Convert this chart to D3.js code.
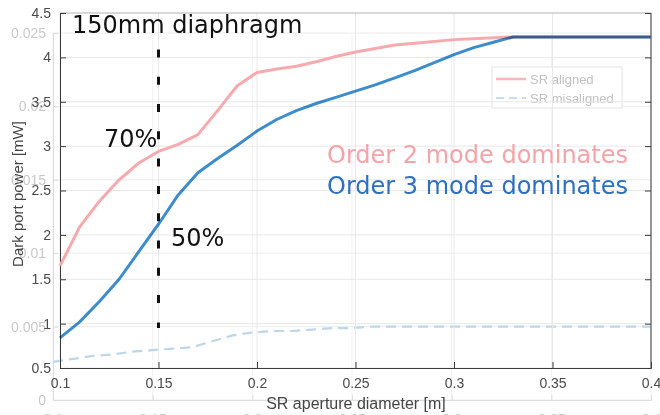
<!DOCTYPE html>
<html>
<head>
<meta charset="utf-8">
<script src="https://cdn.jsdelivr.net/npm/d3@7"></script>
<style>
  html, body { margin: 0; padding: 0; background: #fff; }
  svg { display: block; }
  .mono text { font-family: "Liberation Sans", Arial, sans-serif; }
</style>
</head>
<body>
<svg id="chart" width="660" height="415"></svg>
<script>
// Aperture diameters [m]
const diameters = [0.10,0.11,0.12,0.13,0.14,0.15,0.16,0.17,0.18,0.19,0.20,0.21,0.22,0.23,0.24,0.25,
                   0.26,0.27,0.28,0.29,0.30,0.31,0.32,0.33,0.34,0.35,0.36,0.37,0.38,0.39,0.40];
// Dark port power [mW], order-2 mode dominated case
const order2Power = [1.65,2.09,2.38,2.62,2.81,2.94,3.02,3.13,3.40,3.68,3.83,3.87,3.90,3.95,4.01,4.06,
                     4.10,4.14,4.16,4.18,4.20,4.21,4.22,4.23,4.23,4.23,4.23,4.23,4.23,4.23,4.23];
// Dark port power [mW], order-3 mode dominated case
const order3Power = [0.84,1.02,1.25,1.50,1.81,2.12,2.45,2.70,2.86,3.01,3.17,3.30,3.40,3.48,3.55,3.62,
                     3.69,3.77,3.85,3.94,4.03,4.11,4.17,4.23,4.23,4.23,4.23,4.23,4.23,4.23,4.23];
// Misaligned SR curve (secondary axis units)
const misalignedPower = [0.0026,0.0028,0.0030,0.0031,0.0033,0.0034,0.0035,0.0036,0.0040,0.0044,0.0046,
                         0.0047,0.0047,0.0048,0.0049,0.0049,0.0050,0.0050,0.0050,0.0050,0.0050,0.0050,
                         0.0050,0.0050,0.0050,0.0050,0.0050,0.0050,0.0050,0.0050,0.0050];

const xTicks = [0.1,0.15,0.2,0.25,0.3,0.35,0.4];
const yTicks = [0.5,1,1.5,2,2.5,3,3.5,4,4.5];
const y2Ticks = [0,0.005,0.01,0.015,0.02,0.025];
const legendLabels = ["SR aligned","SR misaligned"];
const diaphragm = 0.15;          // marked aperture [m]
const diaphragmSpan = [0.95, 4.09];

const svg = d3.select("#chart");

// ---------- secondary (faded) axes ----------
const x2 = d3.scaleLinear().domain([0.1,0.4]).range([53,651]);
const y2 = d3.scaleLinear().domain([0,0.025]).range([400,33]);
const back = svg.append("g").attr("class","mono");

back.selectAll("line.vg").data(xTicks).join("line")
  .attr("x1",d=>x2(d)).attr("x2",d=>x2(d)).attr("y1",y2(0.025)).attr("y2",y2(0))
  .attr("stroke","#f1f1f1").attr("stroke-width",1);
back.selectAll("line.hg").data(y2Ticks).join("line")
  .attr("x1",x2(0.1)).attr("x2",x2(0.4)).attr("y1",d=>y2(d)).attr("y2",d=>y2(d))
  .attr("stroke","#ececec").attr("stroke-width",1);

const ax2 = back.append("g").attr("transform",`translate(${x2(0.1)},0)`)
  .call(d3.axisLeft(y2).tickValues(y2Ticks).tickFormat(d=>d===0?"0":String(+d.toFixed(3))).tickSize(-5).tickPadding(7));
const ax2b = back.append("g").attr("transform",`translate(0,${y2(0)})`)
  .call(d3.axisBottom(x2).tickValues(xTicks).tickFormat(d=>String(+d.toFixed(2))).tickSize(-5).tickPadding(14));
[ax2, ax2b].forEach(g => {
  g.select(".domain").attr("stroke","#dcdcdc");
  g.selectAll(".tick line").attr("stroke","#dcdcdc");
  g.selectAll("text").attr("fill","#c9c9c9").attr("font-size",14);
});

// misaligned curve
back.append("path")
  .datum(diameters.map((d,i)=>[d,misalignedPower[i]]))
  .attr("fill","none").attr("stroke","#bcd6ea").attr("stroke-width",2.2)
  .attr("stroke-dasharray","10,6")
  .attr("d", d3.line().x(d=>x2(d[0])).y(d=>y2(d[1])));

// legend
const lg = back.append("g").attr("transform","translate(492,67)");
lg.append("rect").attr("width",130).attr("height",41).attr("fill","#fff")
  .attr("stroke","#e4e4e4");
lg.append("line").attr("x1",4).attr("x2",34).attr("y1",12).attr("y2",12)
  .attr("stroke","#f6b8bb").attr("stroke-width",2.5);
lg.append("line").attr("x1",4).attr("x2",34).attr("y1",31).attr("y2",31)
  .attr("stroke","#c7dcee").attr("stroke-width",2).attr("stroke-dasharray","8,5");
lg.selectAll("text").data(legendLabels).join("text")
  .attr("x",38).attr("y",(d,i)=>12+i*19).attr("dy","0.35em")
  .attr("fill","#c2c2c2").attr("font-size",13).text(d=>d);

// ---------- primary axes ----------
const x = d3.scaleLinear().domain([0.1,0.4]).range([60,651]);
const y = d3.scaleLinear().domain([0.5,4.5]).range([368,13]);
const front = svg.append("g").attr("class","mono");

front.selectAll("line.vg").data(xTicks).join("line")
  .attr("x1",d=>x(d)).attr("x2",d=>x(d)).attr("y1",y(4.5)).attr("y2",y(0.5))
  .attr("stroke","#e8e8e8").attr("stroke-width",1);
front.selectAll("line.hg").data(yTicks).join("line")
  .attr("x1",x(0.1)).attr("x2",x(0.4)).attr("y1",d=>y(d)).attr("y2",d=>y(d))
  .attr("stroke","#e8e8e8").attr("stroke-width",1);

// box edges
front.append("line").attr("x1",x(0.1)).attr("x2",x(0.4)).attr("y1",y(4.5)).attr("y2",y(4.5))
  .attr("stroke","#bdbdbd");
front.append("line").attr("x1",x(0.4)).attr("x2",x(0.4)).attr("y1",y(4.5)).attr("y2",y(0.5))
  .attr("stroke","#3a3a3a");
front.append("g").attr("transform",`translate(${x(0.4)},0)`)
  .call(d3.axisRight(y).tickValues(yTicks).tickSize(-6).tickFormat(""))
  .call(g=>{g.select(".domain").remove(); g.selectAll(".tick line").attr("stroke","#3a3a3a");});

const axY = front.append("g").attr("transform",`translate(${x(0.1)},0)`)
  .call(d3.axisLeft(y).tickValues(yTicks).tickFormat(d=>String(d)).tickSize(-6).tickPadding(9));
const axX = front.append("g").attr("transform",`translate(0,${y(0.5)})`)
  .call(d3.axisBottom(x).tickValues(xTicks).tickFormat(d=>String(+d.toFixed(2))).tickSize(-6).tickPadding(10));
[axY, axX].forEach(g => {
  g.select(".domain").attr("stroke","#3a3a3a");
  g.selectAll(".tick line").attr("stroke","#3a3a3a");
  g.selectAll("text").attr("fill","#4a4a4a").attr("font-size",14);
});

front.append("text").attr("transform","translate(23,194) rotate(-90)")
  .attr("text-anchor","middle").attr("fill","#444").attr("font-size",15)
  .text("Dark port power [mW]");
front.append("text").attr("x",356).attr("y",409)
  .attr("text-anchor","middle").attr("fill","#444").attr("font-size",16)
  .text("SR aperture diameter [m]");

// curves
const line = d3.line().x(d=>x(d[0])).y(d=>y(d[1]));
front.append("path")
  .datum(diameters.map((d,i)=>[d,order2Power[i]]))
  .attr("fill","none").attr("stroke","#f7aaae").attr("stroke-width",3)
  .attr("stroke-linejoin","round").attr("d",line);
front.append("path")
  .datum(diameters.map((d,i)=>[d,order3Power[i]]))
  .attr("fill","none").attr("stroke","#3d8ccb").attr("stroke-width",3)
  .attr("stroke-linejoin","round").style("mix-blend-mode","multiply").attr("d",line);

// diaphragm marker
front.append("line")
  .attr("x1",x(diaphragm)).attr("x2",x(diaphragm))
  .attr("y1",y(diaphragmSpan[1])).attr("y2",y(diaphragmSpan[0]))
  .attr("stroke","#111").attr("stroke-width",3).attr("stroke-dasharray","8,19.3");

// annotations
const ann = svg.append("g").attr("font-family","'DejaVu Sans', sans-serif");
ann.append("text").attr("x",72).attr("y",33).attr("font-size",24).attr("fill","#111")
  .text("150mm diaphragm");
ann.append("text").attr("x",104).attr("y",147).attr("font-size",24).attr("fill","#111")
  .text("70%");
ann.append("text").attr("x",171).attr("y",246).attr("font-size",24).attr("fill","#111")
  .text("50%");
ann.append("text").attr("x",327).attr("y",163).attr("font-size",24).attr("fill","#f4a4a8")
  .text("Order 2 mode dominates");
ann.append("text").attr("x",327).attr("y",194).attr("font-size",24).attr("fill","#2e70c0")
  .text("Order 3 mode dominates");
</script>
</body>
</html>
